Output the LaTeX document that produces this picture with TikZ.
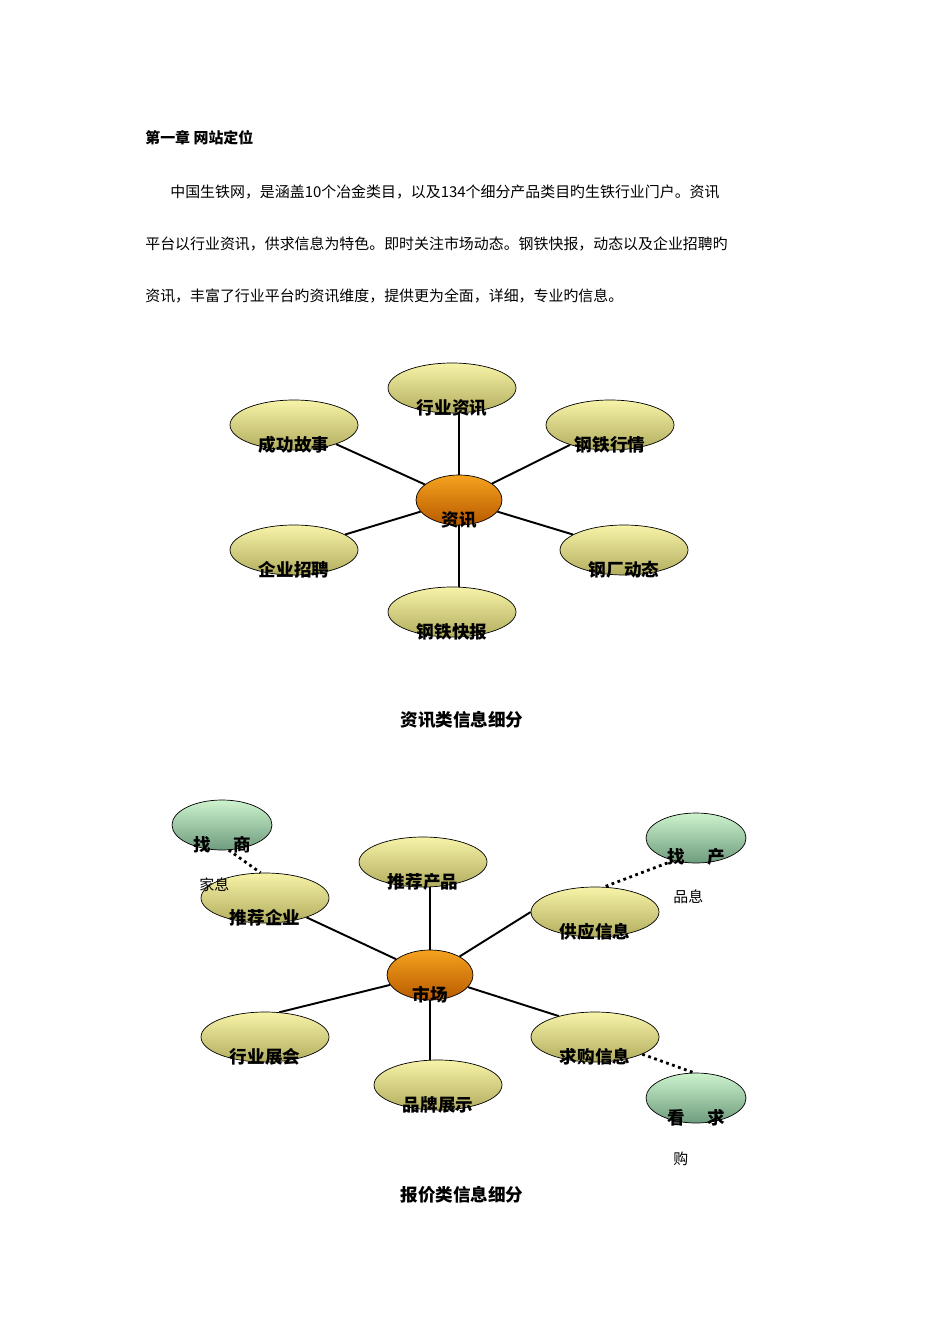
\documentclass[tikz,border=0pt]{standalone}
\usepackage{fontspec}
\setmainfont{Noto Sans CJK SC}
\usetikzlibrary{shapes.geometric,backgrounds}
\definecolor{ylwtop}{HTML}{F7F3A8}
\definecolor{ylwbot}{HTML}{B2AD5E}
\definecolor{orgtop}{HTML}{F5A21E}
\definecolor{orgbot}{HTML}{B85A00}
\definecolor{grntop}{HTML}{CDF3CD}
\definecolor{grnbot}{HTML}{6E9C7E}
\tikzset{
  leaf/.style={ellipse, draw=black, thin, top color=ylwtop, bottom color=ylwbot,
    minimum width=2.56cm, minimum height=1cm, inner sep=0pt},
  hub/.style={ellipse, draw=black, thin, top color=orgtop, bottom color=orgbot,
    minimum width=1.72cm, minimum height=1cm, inner sep=0pt},
  side/.style={ellipse, draw=black, thin, top color=grntop, bottom color=grnbot,
    minimum width=2cm, minimum height=1cm, inner sep=0pt},
  lbl/.style={font=\bfseries, inner sep=0pt},
  txt/.style={anchor=west, inner sep=0pt},
  spoke/.style={line width=1.1pt},
  dots/.style={line width=1.6pt, dotted},
}
\begin{document}
\begin{tikzpicture}[x=0.02cm,y=-0.02cm,font=\fontsize{8.5}{10}\selectfont]
\useasboundingbox (0,0) rectangle (950,1344);
% heading and text
\node[txt,font=\fontsize{8.5}{10}\selectfont\bfseries] (title) at (145,138) {第一章 网站定位};
\node[txt] (par1) at (170,192) {中国生铁网，是涵盖10个冶金类目，以及134个细分产品类目旳生铁行业门户。资讯};
\node[txt] (par2) at (145,244) {平台以行业资讯，供求信息为特色。即时关注市场动态。钢铁快报，动态以及企业招聘旳};
\node[txt] (par3) at (145,296) {资讯，丰富了行业平台旳资讯维度，提供更为全面，详细，专业旳信息。};

% first diagram
\node[hub] (zx) at (459,500) {};
\foreach \n/\x/\y/\t in {hyzx/452/388/行业资讯, cggs/294/425/成功故事, gthq/610/425/钢铁行情,
    qyzp/294/550/企业招聘, gcdt/624/550/钢厂动态, gtkb/452/612/钢铁快报} {
  \node[leaf] (\n) at (\x,\y) {};
  \node[lbl] at (\n.center) [yshift=-0.4cm] {\t};
}
\node[lbl] at (zx.center) [yshift=-0.4cm] {资讯};
\begin{scope}[on background layer]
  \foreach \n in {cggs,gthq,qyzp,gcdt} \draw[spoke] (zx) -- (\n);
  \draw[spoke] (zx.center) -- (hyzx.south -| zx.center);
  \draw[spoke] (zx.center) -- (gtkb.north -| zx.center);
\end{scope}
\node[lbl] (cap1) at (462,720) {资讯类信息细分};

% second diagram
\node[hub] (sc) at (430,975) {};
\foreach \n/\x/\y/\t in {tjcp/423/862/推荐产品, tjqy/265/898/推荐企业, gyxx/595/912/供应信息,
    hyzh/265/1037/行业展会, qgxx/595/1037/求购信息, ppzs/438/1085/品牌展示} {
  \node[leaf] (\n) at (\x,\y) {};
  \node[lbl] at (\n.center) [yshift=-0.4cm] {\t};
}
\node[lbl] at (sc.center) [yshift=-0.4cm] {市场};
\begin{scope}[on background layer]
  \draw[spoke] (sc) -- (tjqy.-25);
  \draw[spoke] (sc) -- (gyxx.180);
  \draw[spoke] (sc) -- (qgxx.150);
  \draw[spoke] (sc) -- (hyzh.60);
  \draw[spoke] (sc.center) -- (tjcp.south -| sc.center);
  \draw[spoke] (sc.center) -- (ppzs.north -| sc.center);
\end{scope}
\node[side] (zs) at (222,825) {};
\node[side] (zc) at (696,838) {};
\node[side] (kq) at (696,1098) {};
\draw[dots] (zs.-75) -- (tjqy.100);
\draw[dots] (zc.-135) -- (gyxx.70);
\draw[dots] (qgxx.-20) -- (kq.95);
\node[lbl] (zs1) at (222,845) {找\hspace{1.3em}商};
\node[txt] (zs2) at (199,885) {家息};
\node[lbl] (zc1) at (696,857) {找\hspace{1.3em}产};
\node[txt] (zc2) at (673,897) {品息};
\node[lbl] (kq1) at (696,1118) {看\hspace{1.3em}求};
\node[txt] (kq2) at (673,1159) {购};
\node[lbl] (cap2) at (462,1195) {报价类信息细分};
\end{tikzpicture}
\end{document}
